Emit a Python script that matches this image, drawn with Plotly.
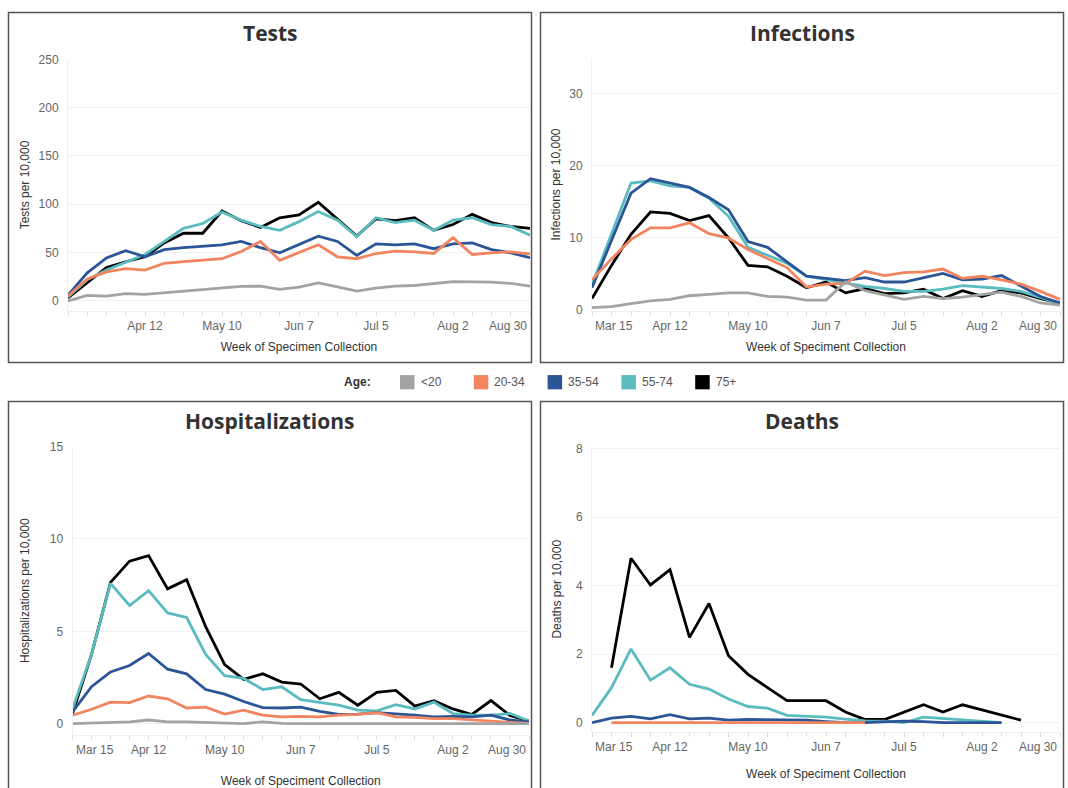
import plotly.graph_objects as go
import pandas as pd

W, H = 1068, 788
OFF = 0  # body margin is removed in the page (post_script below)

# ---------------- data ----------------
weeks = pd.date_range("2020-03-15", periods=25, freq="7D")
age_groups = ["<20", "20-34", "35-54", "55-74", "75+"]
age_colors = ["#a3a3a3", "#f2855f", "#2b5596", "#5bbcbf", "#000000"]

tick_dates = ["2020-04-12", "2020-05-10", "2020-06-07", "2020-07-05", "2020-08-02"]
tick_text = ["Apr 12", "May 10", "Jun 7", "Jul 5", "Aug 2"]
first_label = "Mar 15"
last_label = "Aug 30"

tests_lt20 = [0, 5.7, 5, 7.4, 6.8, 8.4, 10.5, 11.8, 13.5, 14.9, 15.2, 11.8, 14.2, 18.6, 14.5, 10, 13.2, 15.2, 15.9, 18.2, 20, 19.6, 19.3, 18, 15.2]
tests_20_34 = [5, 22.6, 30, 33.4, 31.8, 38.9, 40.5, 42, 43.6, 51, 61.5, 42, 50.3, 58, 45.6, 43.6, 49, 51.4, 50.7, 49, 65.5, 48, 49.7, 50.7, 48.6]
tests_35_54 = [6, 29, 44.5, 52, 45.6, 53, 55, 56.5, 58, 61.5, 55, 49.7, 58, 67, 61.5, 47, 59, 58, 59, 54, 59, 60, 53, 49.7, 44.6]
tests_55_74 = [4, 22, 32, 40, 48, 61.5, 75, 80, 92, 83.5, 77, 73, 82, 92.5, 83.5, 66.5, 86, 81, 83.5, 73, 83.5, 86, 79, 77, 68]
tests_75p = [3, 19, 34.5, 40.5, 45.6, 60, 70, 70, 93, 83, 76, 86, 89, 102, 85, 67, 85, 83, 86, 73, 79, 89.5, 81, 77, 75]

inf_lt20 = [0.36, 0.5, 0.9, 1.3, 1.5, 2.0, 2.2, 2.4, 2.4, 1.9, 1.8, 1.4, 1.4, 3.9, 2.7, 2.1, 1.5, 1.9, 1.6, 1.8, 2.1, 2.5, 1.9, 1.0, 0.7]
inf_20_34 = [4.2, 7.1, 9.8, 11.4, 11.4, 12.1, 10.6, 10.0, 8.4, 7.1, 5.9, 3.2, 3.6, 3.7, 5.4, 4.8, 5.2, 5.3, 5.7, 4.4, 4.7, 4.2, 3.6, 2.6, 1.5]
inf_35_54 = [3.1, 9.7, 16.2, 18.2, 17.6, 17.0, 15.6, 13.9, 9.5, 8.7, 6.7, 4.7, 4.4, 4.1, 4.5, 3.9, 3.9, 4.5, 5.1, 4.2, 4.3, 4.8, 3.3, 1.9, 1.0]
inf_55_74 = [3.5, 10.5, 17.6, 17.9, 17.2, 17.0, 15.5, 13.0, 8.7, 7.6, 6.5, 4.7, 4.2, 3.8, 3.3, 3.0, 2.6, 2.6, 2.9, 3.4, 3.2, 3.0, 2.6, 1.8, 0.9]
inf_75p = [1.6, 6.2, 10.5, 13.6, 13.4, 12.4, 13.1, 10.0, 6.2, 6.0, 4.7, 3.1, 3.9, 2.4, 3.0, 2.3, 2.4, 2.9, 1.6, 2.7, 1.9, 2.7, 2.4, 1.6, 1.0]

hosp_lt20 = [0.0, 0.02, 0.07, 0.1, 0.2, 0.1, 0.1, 0.07, 0.07, 0.0, 0.1, 0.02, 0.0, 0.0, 0.0, 0.04, 0.0, 0.0, 0.0, 0.0, 0.0, 0.0, 0.0, 0.0, 0.0]
hosp_20_34 = [0.46, 0.78, 1.17, 1.14, 1.5, 1.35, 0.85, 0.9, 0.52, 0.73, 0.46, 0.37, 0.4, 0.37, 0.46, 0.5, 0.6, 0.37, 0.34, 0.28, 0.28, 0.2, 0.14, 0.07, 0.02]
hosp_35_54 = [0.64, 2.0, 2.8, 3.15, 3.8, 2.95, 2.7, 1.85, 1.6, 1.2, 0.87, 0.85, 0.9, 0.67, 0.5, 0.52, 0.6, 0.55, 0.46, 0.37, 0.4, 0.37, 0.46, 0.2, 0.1]
hosp_55_74 = [0.8, 3.75, 7.6, 6.4, 7.2, 6.0, 5.75, 3.75, 2.6, 2.45, 1.85, 2.0, 1.3, 1.17, 1.0, 0.73, 0.7, 1.03, 0.8, 1.17, 0.55, 0.46, 0.46, 0.55, 0.15]
hosp_75p = [0.55, 3.75, 7.65, 8.8, 9.1, 7.3, 7.8, 5.25, 3.2, 2.4, 2.7, 2.25, 2.15, 1.35, 1.7, 1.0, 1.7, 1.8, 0.95, 1.25, 0.8, 0.5, 1.25, 0.45, 0.15]

deaths_lt20 = [None] * 25
deaths_20_34 = [None, 0.0, 0.0, 0.02, 0.0, 0.0, 0.0, 0.0, 0.0, 0.0, 0.0, 0.0, 0.0, 0.0, 0.0, None, None, None, None, None, None, None, None, None, None]
deaths_35_54 = [0.0, 0.13, 0.18, 0.11, 0.23, 0.11, 0.13, 0.07, 0.09, 0.09, 0.09, 0.07, 0.03, 0.0, 0.0, 0.03, 0.04, 0.03, 0.0, 0.0, 0.0, 0.0, None, None, None]
deaths_55_74 = [0.21, 1.02, 2.15, 1.24, 1.6, 1.12, 0.98, 0.69, 0.47, 0.42, 0.21, 0.19, 0.16, 0.1, 0.05, 0.04, 0.0, 0.16, 0.12, 0.07, 0.02, 0.0, None, None, None]
deaths_75p = [None, 1.6, 4.8, 4.02, 4.47, 2.49, 3.48, 1.95, 1.41, 1.02, 0.64, 0.64, 0.64, 0.31, 0.09, 0.09, 0.31, 0.52, 0.31, 0.52, 0.37, 0.22, 0.07, None, None]

# ---------------- panel styling (positions in reference pixels) ----------------
panels = [
    dict(title="Tests", ytitle="Tests per 10,000", xtitle="Week of Specimen Collection",
         box=(8.5, 5.5, 531.5, 361.5), xdom=(68, 530), ydom=(53, 309), yrange=[-10.4, 250.2],
         yticks=[0, 50, 100, 150, 200, 250], show_first=False, title_y=26,
         ystand=6, xstand=10,
         series=[tests_lt20, tests_20_34, tests_35_54, tests_55_74, tests_75p]),
    dict(title="Infections", ytitle="Infections per 10,000", xtitle="Week of Speciment Collection",
         box=(540.5, 5.5, 1063.5, 361.5), xdom=(592, 1060), ydom=(52, 309), yrange=[-0.1, 34.9],
         yticks=[0, 10, 20, 30], show_first=True, title_y=26,
         ystand=6, xstand=10,
         series=[inf_lt20, inf_20_34, inf_35_54, inf_55_74, inf_75p]),
    dict(title="Hospitalizations", ytitle="Hospitalizations per 10,000", xtitle="Week of Speciment Collection",
         box=(8.5, 401, 531.5, 800), xdom=(72.5, 529), ydom=(447, 740), yrange=[-0.6, 15.0],
         yticks=[0, 5, 10, 15], show_first=True, title_y=421,
         ystand=17, xstand=21,
         series=[hosp_lt20, hosp_20_34, hosp_35_54, hosp_55_74, hosp_75p]),
    dict(title="Deaths", ytitle="Deaths per 10,000", xtitle="Week of Speciment Collection",
         box=(540.5, 401, 1063.5, 800), xdom=(592, 1060), ydom=(447, 737), yrange=[-0.27, 8.06],
         yticks=[0, 2, 4, 6, 8], show_first=True, title_y=421,
         ystand=11, xstand=16,
         series=[deaths_lt20, deaths_20_34, deaths_35_54, deaths_55_74, deaths_75p]),
]


def fx(p):
    return (p - OFF) / W


def fy(p):
    return 1 - (p - OFF) / H


TICK_FONT = dict(family="Arial, Liberation Sans, sans-serif", size=12, color="#666666")
TITLE_FONT = dict(family="Arial, Liberation Sans, sans-serif", size=12, color="#333333")

fig = go.Figure()
shapes = []
annotations = []
layout = {}

draw_order = [4, 3, 2, 1, 0]  # 75+ at bottom, <20 on top
n_panels = len(panels)

for k, p in enumerate(panels):
    n = "" if k == 0 else str(k + 1)
    xa, ya = "x" + n, "y" + n
    for j in draw_order:
        fig.add_trace(go.Scatter(
            x=weeks, y=p["series"][j], mode="lines", name=age_groups[j],
            line=dict(color=age_colors[j], width=2.8), showlegend=False,
            xaxis=xa, yaxis=ya, connectgaps=False,
        ))
    layout["xaxis" + n] = dict(
        type="date", domain=[fx(p["xdom"][0]), fx(p["xdom"][1])], anchor=ya,
        range=[weeks[0], weeks[-1]], tickvals=tick_dates, ticktext=tick_text,
        tickfont=TICK_FONT, ticks="outside", ticklen=4, tickcolor="#dddddd",
        minor=dict(ticks="outside", ticklen=4, tickcolor="#dddddd",
                   dtick=7 * 86400000, tick0="2020-03-15"),
        showgrid=False, zeroline=False, showline=True, linecolor="#eeeeee",
        title=dict(text=p["xtitle"], font=TITLE_FONT, standoff=p["xstand"]),
        fixedrange=True,
    )
    layout["yaxis" + n] = dict(
        domain=[fy(p["ydom"][1]), fy(p["ydom"][0])], anchor=xa,
        range=p["yrange"], tickvals=p["yticks"], tickfont=TICK_FONT,
        showgrid=True, gridcolor="#f0f0f0", gridwidth=1, zeroline=False,
        showline=True, linecolor="#f0f0f0", ticks="", ticklabelstandoff=6,
        title=dict(text=p["ytitle"], font=TITLE_FONT, standoff=p["ystand"]),
        fixedrange=True,
    )
    # overlay axis that only carries the dotted zero reference line
    m = str(k + 1 + n_panels)
    layout["yaxis" + m] = dict(
        overlaying=ya, anchor=xa, range=p["yrange"], tickvals=[0],
        showticklabels=False, ticks="", showline=False, zeroline=False,
        showgrid=True, gridcolor="#c4c4c4", gridwidth=1, griddash="dot",
        fixedrange=True,
    )
    # panel border
    bx0, by0, bx1, by1 = p["box"]
    shapes.append(dict(type="rect", xref="paper", yref="paper",
                       x0=fx(bx0), x1=fx(bx1), y0=fy(by1), y1=fy(by0),
                       line=dict(color="#555555", width=1.5), layer="above"))
    # panel title
    annotations.append(dict(text="<b>" + p["title"] + "</b>", xref="paper", yref="paper",
                            x=fx((bx0 + bx1) / 2), y=fy(p["title_y"]), xanchor="center", yanchor="middle",
                            showarrow=False, font=dict(family="Open Sans", size=21, color="#333333")))
    # edge tick labels, kept inside the plot like the original
    if p["show_first"]:
        annotations.append(dict(text=first_label, xref=xa, yref=ya + " domain", x=weeks[0], y=0,
                                xanchor="left", yanchor="middle", yshift=-15, xshift=1,
                                showarrow=False, font=TICK_FONT))
    annotations.append(dict(text=last_label, xref=xa, yref=ya + " domain", x=weeks[-1], y=0,
                            xanchor="right", yanchor="middle", yshift=-15, xshift=-1,
                            showarrow=False, font=TICK_FONT))

# ---------------- legend (drawn) ----------------
annotations.append(dict(text="<b>Age:</b>", xref="paper", yref="paper", x=fx(373), y=fy(381.5),
                        xanchor="right", yanchor="middle", showarrow=False,
                        font=dict(family="Arial, Liberation Sans, sans-serif", size=12, color="#333333")))
leg_x0, leg_step, sq = 400, 73.8, 14.5
for i, (g, c) in enumerate(zip(age_groups, age_colors)):
    x0 = leg_x0 + i * leg_step
    shapes.append(dict(type="rect", xref="paper", yref="paper",
                       x0=fx(x0), x1=fx(x0 + sq), y0=fy(381.5 + sq / 2), y1=fy(381.5 - sq / 2),
                       fillcolor=c, line=dict(width=0)))
    annotations.append(dict(text=g, xref="paper", yref="paper", x=fx(x0 + sq + 4), y=fy(381.5),
                            xanchor="left", yanchor="middle", showarrow=False,
                            font=dict(family="Arial, Liberation Sans, sans-serif", size=12, color="#555555")))

fig.update_layout(
    width=W, height=H, autosize=False,
    margin=dict(l=0, r=0, t=0, b=0, pad=0),
    paper_bgcolor="white", plot_bgcolor="white",
    showlegend=False, shapes=shapes, annotations=annotations,
    **layout,
)

fig.write_html("out.html", config={"displayModeBar": False},
               post_script="document.body.style.margin='0px';")
